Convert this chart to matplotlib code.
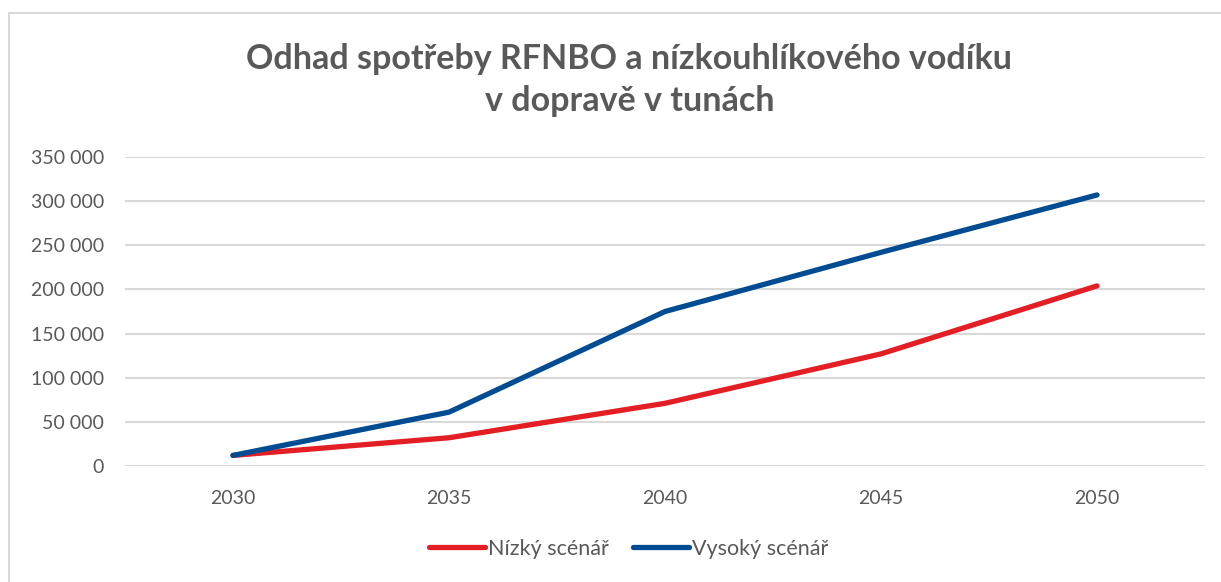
import matplotlib
matplotlib.use("Agg")
import matplotlib.pyplot as plt
from matplotlib.lines import Line2D
from matplotlib.ticker import FuncFormatter

years = ["2030", "2035", "2040", "2045", "2050"]
nizky = [12000, 32000, 71000, 127000, 204000]
vysoky = [12000, 61000, 175000, 242000, 307000]
series_names = ["Nízký scénář", "Vysoký scénář"]
title = "Odhad spotřeby RFNBO a nízkouhlíkového vodíku\nv dopravě v tunách"

plt.rcParams['font.family'] = ['Lato', 'DejaVu Sans']
TXT = "#595959"
GRID = "#d9d9d9"
RED = "#e31e24"
BLUE = "#004c93"

W, H = 1221, 582
fig = plt.figure(figsize=(W / 100, H / 100), dpi=100)
ax = fig.add_axes([125 / W, (H - 466) / H, (1205 - 125) / W, (466 - 157) / H])

x = list(range(len(years)))
ax.plot(x, nizky, color=RED, lw=3.8, solid_capstyle='round', solid_joinstyle='round', label=series_names[0], zorder=3)
ax.plot(x, vysoky, color=BLUE, lw=3.8, solid_capstyle='round', solid_joinstyle='round', label=series_names[1], zorder=4)

ax.set_xlim(-0.5, len(years) - 0.5)
ax.set_ylim(0, 350000)
ax.set_yticks(range(0, 350001, 50000))
ax.yaxis.set_major_formatter(FuncFormatter(lambda v, p: f"{int(v):,}".replace(",", " ")))
ax.set_xticks(x)
ax.set_xticklabels(years)
ax.grid(axis='y', color=GRID, lw=1.5)
ax.set_axisbelow(True)
for s in ax.spines.values():
    s.set_visible(False)
ax.tick_params(axis='both', length=0, colors=TXT, labelsize=14)
ax.tick_params(axis='y', pad=15)
ax.tick_params(axis='x', pad=17)

fig.text(0.5155, (H - 80) / H, title, ha='center', va='center', fontsize=24.5, fontweight='bold',
         color=TXT, linespacing=1.42)

leg = fig.legend(loc='center', bbox_to_anchor=(0.515, (H - 549) / H), ncol=2, frameon=False,
                 fontsize=15.5, handlelength=2.6, handletextpad=0.15, columnspacing=1.1)
for t in leg.get_texts():
    t.set_color(TXT)
for l in leg.get_lines():
    l.set_linewidth(3.8)
    l.set_solid_capstyle('round')

# chart border (top and left)
fig.add_artist(Line2D([9 / W, 1], [(H - 13) / H, (H - 13) / H], color=GRID, lw=1.5, transform=fig.transFigure))
fig.add_artist(Line2D([9 / W, 9 / W], [0, (H - 13) / H], color=GRID, lw=1.5, transform=fig.transFigure))

fig.savefig("out.png", dpi=100)
